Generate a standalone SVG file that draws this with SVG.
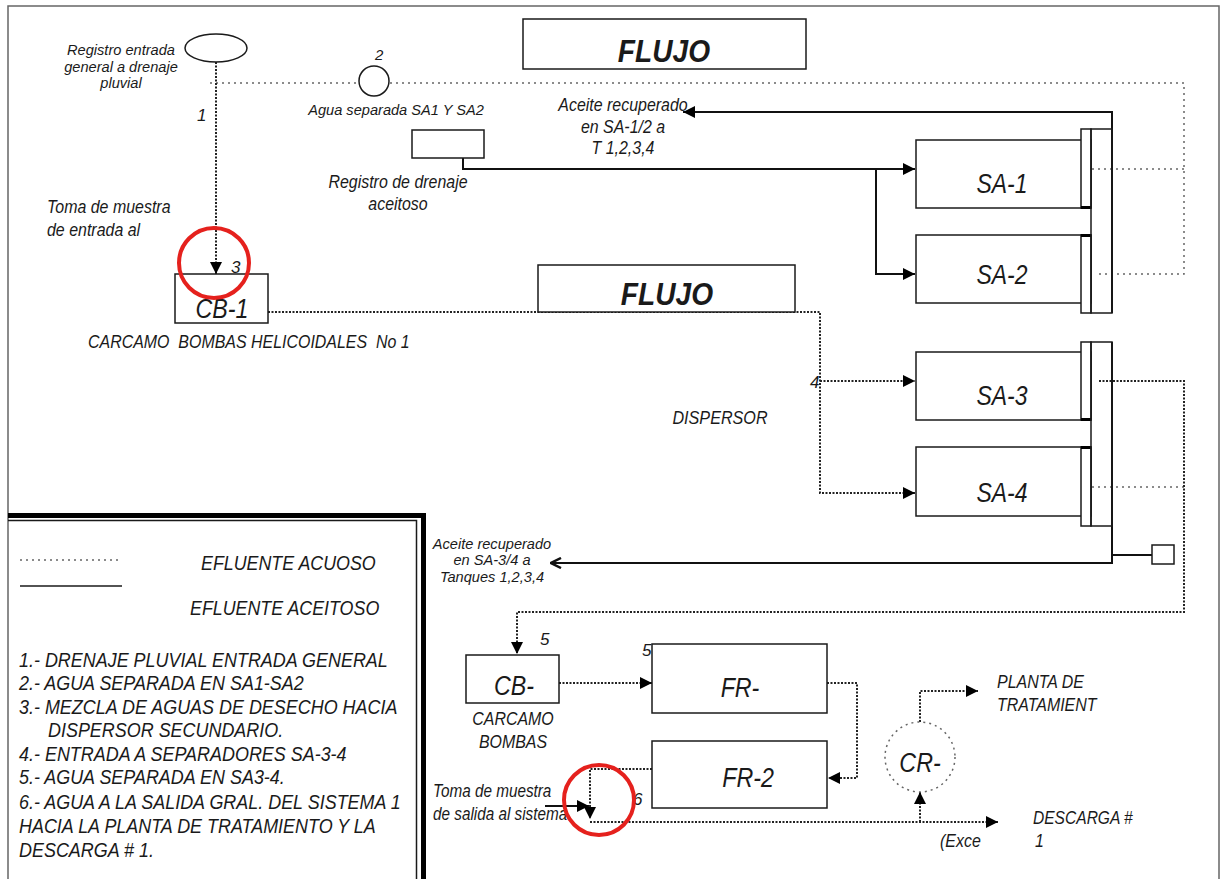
<svg xmlns="http://www.w3.org/2000/svg" width="1225" height="879" viewBox="0 0 1225 879">
<style>
text{font-family:"Liberation Sans",Arial,sans-serif;font-style:italic;fill:#1a1a1a}
.w{font-size:14.6px}
.n{font-size:19px}
.s{font-size:17px}
.big{font-size:28px}
.flujo{font-size:32px;font-weight:bold}
.leg{font-size:21px}
.c{text-anchor:middle}
.box{fill:#fff;stroke:#1a1a1a;stroke-width:1.5}
.oil{fill:none;stroke:#111;stroke-width:2}
.dd{fill:none;stroke:#222;stroke-width:2;stroke-dasharray:2 1.5}
.ld{fill:none;stroke:#666;stroke-width:1.5;stroke-dasharray:2 4}
.red{fill:none;stroke:#e5211d;stroke-width:4}
.frame{fill:none;stroke:#666;stroke-width:1.5}
</style>
<defs>
<marker id="ah" viewBox="0 0 12 12" refX="12" refY="6" markerWidth="12" markerHeight="12" markerUnits="userSpaceOnUse" orient="auto"><path d="M0,0 L12,6 L0,12 z" fill="#000"/></marker>
<marker id="ao" viewBox="0 0 12 12" refX="11" refY="6" markerWidth="12" markerHeight="12" markerUnits="userSpaceOnUse" orient="auto"><path d="M1,1 L11,6 L1,11" fill="none" stroke="#111" stroke-width="2.5"/></marker>
</defs>
<rect width="1225" height="879" fill="#fff"/>
<path class="frame" d="M8,879 V6 H1219 V879"/>

<g id="connectors">
  <path class="ld" d="M210,83 H1184 V274 H1095"/>
  <path class="ld" d="M1092,169 H1184"/>
  <path class="ld" d="M1092,487 H1184"/>
  <path class="dd" d="M216,62 V274" marker-end="url(#ah)"/>
  <path class="dd" d="M268,312 H820 V493 H915" marker-end="url(#ah)"/>
  <path class="dd" d="M820,381 H915" marker-end="url(#ah)"/>
  <path class="dd" d="M1099,381 H1184 V612 H517 V654" marker-end="url(#ah)"/>
  <path class="dd" d="M559,683 H652" marker-end="url(#ah)"/>
  <path class="dd" d="M827,683 H857 V778 H828" marker-end="url(#ah)"/>
  <path class="dd" d="M652,769 H590 V819" marker-end="url(#ah)"/>
  <path class="dd" d="M590,822 H998" marker-end="url(#ah)"/>
  <path class="dd" d="M920,822 V792" marker-end="url(#ah)"/>
  <path class="dd" d="M920,722 V691 H978" marker-end="url(#ah)"/>
  <path class="oil" d="M463,158 V169 H915" marker-end="url(#ah)"/>
  <path class="oil" d="M876,169 V274 H915" marker-end="url(#ah)"/>
  <path class="oil" d="M1112,313 V112 H683" marker-end="url(#ah)"/>
  <path class="oil" d="M1112,342 V563 H551" marker-end="url(#ao)"/>
  <path class="oil" d="M1112,555 H1152" stroke-width="1.5"/>
  <path class="oil" d="M545,806 H589" marker-end="url(#ah)"/>
</g>

<g id="registro-entrada">
  <ellipse class="box" cx="216" cy="48" rx="31" ry="14"/>
  <text class="w c" x="121" y="55">Registro entrada</text>
  <text class="w c" x="121" y="72">general a drenaje</text>
  <text class="w c" x="121" y="88">pluvial</text>
  <text class="s" x="197" y="121">1</text>
</g>

<g id="agua-separada">
  <circle class="box" cx="374" cy="81" r="15"/>
  <text class="w" x="375" y="60" style="font-size:15px">2</text>
  <text class="w c" x="396" y="115">Agua separada SA1 Y SA2</text>
</g>

<g id="registro-drenaje">
  <rect class="box" x="412" y="130" width="72" height="28"/>
  <text class="n c" transform="translate(398,188) scale(.84,1)">Registro de drenaje</text>
  <text class="n c" transform="translate(398,210) scale(.84,1)">aceitoso</text>
</g>

<g id="flujo-1">
  <rect class="box" x="523" y="19" width="283" height="50"/>
  <text class="flujo c" transform="translate(664,62) scale(.88,1)">FLUJO</text>
</g>

<g id="aceite-1">
  <text class="n c" transform="translate(623,111) scale(.84,1)">Aceite recuperado</text>
  <text class="n c" transform="translate(623,133) scale(.84,1)">en SA-1/2 a</text>
  <text class="n c" transform="translate(623,154) scale(.84,1)">T 1,2,3,4</text>
</g>

<g id="toma-entrada">
  <text class="n" transform="translate(47,213) scale(.84,1)">Toma de muestra</text>
  <text class="n" transform="translate(47,236) scale(.84,1)">de entrada al</text>
</g>

<g id="cb-1">
  <rect class="box" x="175" y="274" width="93" height="49"/>
  <path d="M209,268 L223,268" stroke="#fff" stroke-width="0"/>
  <text class="big c" transform="translate(222,318) scale(.83,1)">CB-1</text>
  <text class="s" x="231" y="273">3</text>
  <text class="n" transform="translate(88,348) scale(.84,1)" xml:space="preserve">CARCAMO  BOMBAS HELICOIDALES  No 1</text>
  <circle class="red" cx="214" cy="263" r="35"/>
</g>

<g id="flujo-2">
  <rect class="box" x="538" y="265" width="257" height="47"/>
  <text class="flujo c" transform="translate(667,305) scale(.88,1)">FLUJO</text>
</g>

<g id="dispersor">
  <text class="s" x="810" y="388">4</text>
  <text class="n c" transform="translate(720,424) scale(.85,1)">DISPERSOR</text>
</g>

<g id="sa-1">
  <rect class="box" x="916" y="140" width="175" height="68"/>
  <rect class="box" x="1081" y="129" width="10" height="79"/>
  <path d="M1081,207.5 H1091" stroke="#000" stroke-width="3"/>
  <text class="big c" transform="translate(1002,193) scale(.82,1)">SA-1</text>
</g>
<g id="sa-2">
  <rect class="box" x="916" y="235" width="175" height="68"/>
  <rect class="box" x="1081" y="235" width="10" height="78"/>
  <path d="M1081,235.5 H1091" stroke="#000" stroke-width="3"/>
  <text class="big c" transform="translate(1002,284) scale(.82,1)">SA-2</text>
</g>
<g id="colector-1">
  <rect x="1091" y="129" width="21" height="184" fill="none" stroke="#1a1a1a" stroke-width="1.5"/>
</g>
<g id="sa-3">
  <rect class="box" x="916" y="352" width="175" height="68"/>
  <rect class="box" x="1081" y="342" width="10" height="78"/>
  <path d="M1081,419.5 H1091" stroke="#000" stroke-width="3"/>
  <text class="big c" transform="translate(1002,405) scale(.82,1)">SA-3</text>
</g>
<g id="sa-4">
  <rect class="box" x="916" y="447" width="175" height="69"/>
  <rect class="box" x="1081" y="447" width="10" height="79"/>
  <path d="M1081,447.5 H1091" stroke="#000" stroke-width="3"/>
  <text class="big c" transform="translate(1002,502) scale(.82,1)">SA-4</text>
</g>
<g id="colector-2">
  <rect x="1091" y="342" width="21" height="184" fill="none" stroke="#1a1a1a" stroke-width="1.5"/>
  <rect class="box" x="1152" y="545" width="22" height="19"/>
</g>

<g id="aceite-2">
  <text class="w c" x="492" y="549">Aceite recuperado</text>
  <text class="w c" x="492" y="565">en SA-3/4 a</text>
  <text class="w c" x="492" y="582">Tanques 1,2,3,4</text>
</g>

<g id="cb-">
  <rect class="box" x="466" y="655" width="93" height="48"/>
  <text class="big c" transform="translate(514,695) scale(.83,1)">CB-</text>
  <text class="s" x="540" y="645">5</text>
  <text class="n c" transform="translate(513,725) scale(.84,1)">CARCAMO</text>
  <text class="n c" transform="translate(513,748) scale(.84,1)">BOMBAS</text>
</g>

<g id="fr-">
  <rect class="box" x="652" y="644" width="175" height="69"/>
  <text class="big c" transform="translate(740,697) scale(.83,1)">FR-</text>
  <text class="s" x="642" y="656">5</text>
</g>

<g id="fr-2">
  <rect class="box" x="652" y="741" width="175" height="67"/>
  <text class="big c" transform="translate(748,787) scale(.83,1)">FR-2</text>
</g>

<g id="toma-salida">
  <text class="s" transform="translate(433,797) scale(.85,1)" style="font-size:18px">Toma de muestra</text>
  <text class="s" transform="translate(433,820) scale(.85,1)" style="font-size:18px">de salida al sistema</text>
  <text class="s" x="633" y="805">6</text>
  <circle class="red" cx="599" cy="800" r="35"/>
</g>

<g id="cr-">
  <circle cx="920" cy="757" r="35" fill="none" stroke="#666" stroke-width="1.5" stroke-dasharray="2 4"/>
  <text class="big c" transform="translate(920,772) scale(.83,1)">CR-</text>
</g>

<g id="planta">
  <text class="n" transform="translate(997,688) scale(.84,1)">PLANTA DE</text>
  <text class="n" transform="translate(997,711) scale(.84,1)">TRATAMIENT</text>
</g>

<g id="descarga">
  <text class="n" transform="translate(1033,824) scale(.82,1)">DESCARGA #</text>
  <text class="n" transform="translate(1035,847) scale(.84,1)">1</text>
  <text class="n" transform="translate(940,847) scale(.84,1)">(Exce</text>
</g>

<g id="leyenda">
  <path d="M8,515.5 H423.5 V879" fill="none" stroke="#000" stroke-width="5"/>
  <path d="M8,520.5 H416.5 V879" fill="none" stroke="#1a1a1a" stroke-width="1.5"/>
  <path class="ld" d="M20,560 H118"/>
  <path d="M20,586 H122" stroke="#1a1a1a" stroke-width="1.3"/>
  <text class="leg" transform="translate(201,570) scale(.85,1)">EFLUENTE ACUOSO</text>
  <text class="leg" transform="translate(190,615) scale(.85,1)">EFLUENTE ACEITOSO</text>
  <text class="leg" transform="translate(19,667) scale(.855,1)">1.- DRENAJE PLUVIAL ENTRADA GENERAL</text>
  <text class="leg" transform="translate(19,690) scale(.855,1)">2.- AGUA SEPARADA EN SA1-SA2</text>
  <text class="leg" transform="translate(19,714) scale(.855,1)">3.- MEZCLA DE AGUAS DE DESECHO HACIA</text>
  <text class="leg" transform="translate(48,737) scale(.855,1)">DISPERSOR SECUNDARIO.</text>
  <text class="leg" transform="translate(19,761) scale(.855,1)">4.- ENTRADA A SEPARADORES SA-3-4</text>
  <text class="leg" transform="translate(19,784) scale(.855,1)">5.- AGUA SEPARADA EN SA3-4.</text>
  <text class="leg" transform="translate(19,809) scale(.855,1)">6.- AGUA A LA SALIDA GRAL. DEL SISTEMA 1</text>
  <text class="leg" transform="translate(19,833) scale(.855,1)">HACIA LA PLANTA DE TRATAMIENTO Y LA</text>
  <text class="leg" transform="translate(19,857) scale(.855,1)">DESCARGA # 1.</text>
</g>
</svg>
